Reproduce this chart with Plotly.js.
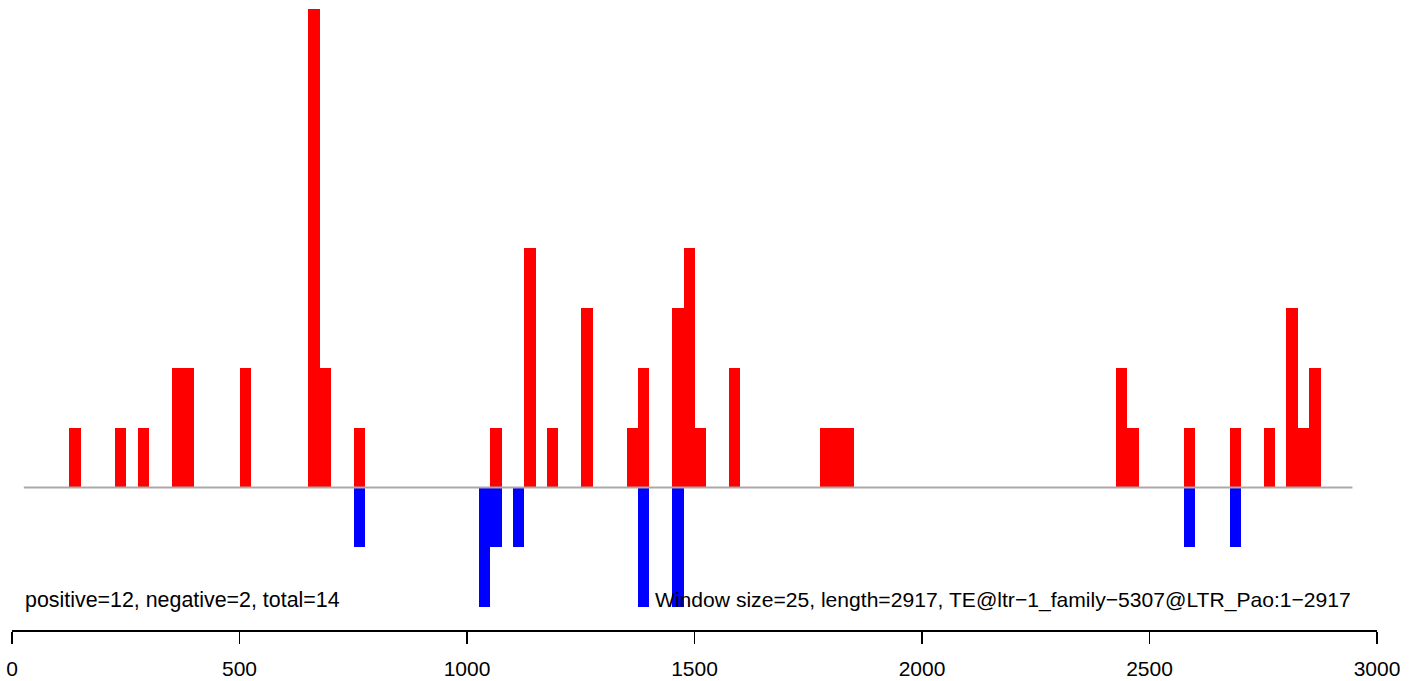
<!DOCTYPE html>
<html>
<head>
<meta charset="utf-8">
<script src="https://cdn.plot.ly/plotly-3.0.1.min.js"></script>
<style>html,body{margin:0;padding:0;background:#fff;}#chart{width:1419px;height:681px;}</style>
</head>
<body>
<div id="chart"></div>
<script>
// Window start positions (window size 25) and counts
const windowSize = 25;
const posStarts = [126, 226, 276, 351, 376, 501, 651, 676, 751, 1051, 1126, 1176, 1251, 1351, 1376, 1451, 1476, 1501, 1576, 1776, 1801, 1826, 2426, 2451, 2576, 2676, 2751, 2801, 2826, 2851];
const posCounts = [1, 1, 1, 2, 2, 2, 8, 2, 1, 1, 4, 1, 3, 1, 2, 3, 4, 1, 2, 1, 1, 1, 2, 1, 1, 1, 1, 3, 1, 2];
const negStarts = [751, 1026, 1051, 1101, 1376, 1451, 2576, 2676];
const negCounts = [-1, -2, -1, -1, -2, -2, -1, -1];
const xTicks = [0, 500, 1000, 1500, 2000, 2500, 3000];
const leftLabel = "positive=12, negative=2, total=14";
const rightLabel = "Window size=25, length=2917, TE@ltr\u22121_family\u22125307@LTR_Pao:1\u22122917";
const baselineStart = 26, baselineEnd = 2946;

const font = "Liberation Sans, Arial, Helvetica, sans-serif";

const traces = [
  {type: 'bar', x: posStarts, y: posCounts, width: posStarts.map(() => windowSize), offset: 0,
   marker: {color: '#FF0000', line: {width: 0}}, hoverinfo: 'x+y', showlegend: false},
  {type: 'bar', x: negStarts, y: negCounts, width: negStarts.map(() => windowSize), offset: 0,
   marker: {color: '#0000FF', line: {width: 0}}, hoverinfo: 'x+y', showlegend: false}
];

const layout = {
  width: 1419, height: 681,
  margin: {l: 12, r: 42, t: 0, b: 51, pad: 0},
  paper_bgcolor: '#fff', plot_bgcolor: '#fff',
  barmode: 'overlay', bargap: 0,
  showlegend: false,
  font: {family: font, size: 21, color: '#000'},
  xaxis: {
    range: [0, 3000], tickvals: xTicks, ticktext: xTicks.map(String),
    showgrid: false, zeroline: false, showline: true, linecolor: '#000', linewidth: 1.5,
    ticks: 'outside', ticklen: 12, tickwidth: 1.5, tickcolor: '#000', ticklabelstandoff: 7,
    tickfont: {family: font, size: 21, color: '#000'}, fixedrange: true
  },
  yaxis: {
    range: [-2.3833, 8.15], visible: false, showgrid: false, zeroline: false, fixedrange: true
  },
  shapes: [
    {type: 'line', xref: 'x', yref: 'y', x0: baselineStart, x1: baselineEnd, y0: 0, y1: 0,
     line: {color: '#A9A9A9', width: 2}, layer: 'above'}
  ],
  annotations: [
    {xref: 'x', yref: 'y', x: baselineStart, y: -1.883, text: leftLabel, showarrow: false,
     xanchor: 'left', yanchor: 'middle', borderpad: 0, font: {family: font, size: 21.4, color: '#000'}},
    {xref: 'x', yref: 'y', x: baselineEnd, y: -1.883, text: rightLabel, showarrow: false,
     xanchor: 'right', yanchor: 'middle', borderpad: 0, font: {family: font, size: 21.1, color: '#000'}}
  ]
};

Plotly.newPlot('chart', traces, layout, {displayModeBar: false, staticPlot: true});
</script>
</body>
</html>
